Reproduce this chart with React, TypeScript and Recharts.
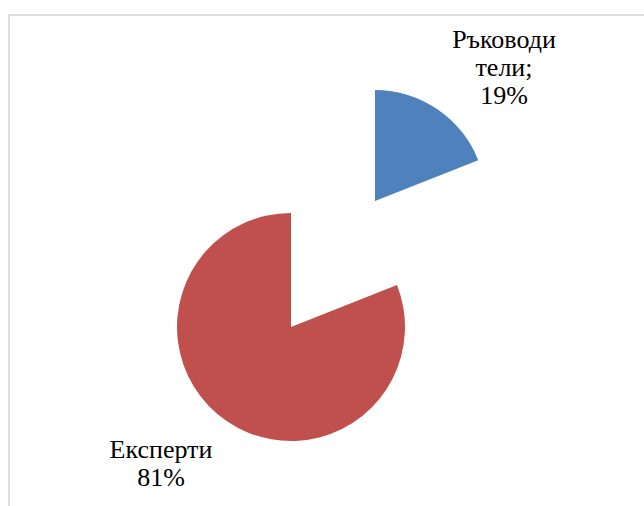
import { PieChart, Pie, Cell } from "recharts";

const categories = ["Ръководители", "Експерти"];
const shares = [19, 81];
// how each category label is broken over lines in the chart
const labelRows = [["Ръководи", "тели;"], ["Експерти"]];
const COLORS = ["#4f81bd", "#c0504d"];

const data = categories.map((name, i) => ({ name, value: shares[i] }));

// exploded layout: each slice drawn by its own pie, centres and label spots per slice
const CENTERS = [{ x: 365, y: 185, r: 111 }, { x: 281, y: 311, r: 114 }];
const LABEL_POS = [{ dx: 129, dy: -153 }, { dx: -130, dy: 131 }];
const LINE_H = 28;
const FONT = '"Liberation Serif", "Times New Roman", serif';

function makeLabel(slice: number) {
  return (props: any) => {
    if (props.index !== slice) return null;
    const p = LABEL_POS[slice];
    const x = props.cx + p.dx;
    const y0 = props.cy + p.dy;
    const rows = [...labelRows[slice], `${Math.round(props.percent * 100)}%`];
    return (
      <text x={x} y={y0} textAnchor="middle" fill="#000" style={{ fontFamily: FONT, fontSize: 26 }}>
        {rows.map((r, i) => (
          <tspan key={i} x={x} y={y0 + i * LINE_H}>{r}</tspan>
        ))}
      </text>
    );
  };
}

export default function App() {
  return (
    <div style={{ position: "absolute", left: 8, top: 14, borderLeft: "2px solid #dcdcdc", borderTop: "2px solid #dcdcdc" }}>
      <PieChart width={634} height={490} margin={{ top: 0, right: 0, bottom: 0, left: 0 }}>
        {CENTERS.map((c, s) => (
          <Pie
            key={s}
            data={data}
            dataKey="value"
            nameKey="name"
            cx={c.x}
            cy={c.y}
            outerRadius={c.r}
            startAngle={90}
            endAngle={-270}
            stroke="none"
            labelLine={false}
            label={makeLabel(s)}
            isAnimationActive={false}
          >
            {data.map((d, i) => (
              <Cell key={d.name} fill={i === s ? COLORS[i] : "transparent"} />
            ))}
          </Pie>
        ))}
      </PieChart>
    </div>
  );
}
